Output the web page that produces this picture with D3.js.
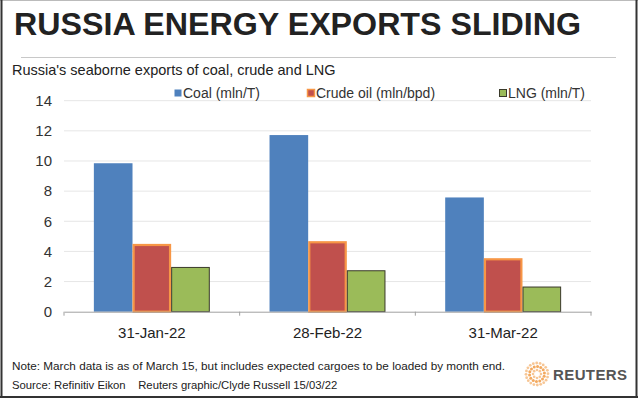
<!DOCTYPE html>
<html>
<head>
<meta charset="utf-8">
<script src="https://cdn.jsdelivr.net/npm/d3@7"></script>
<style>
  body { margin: 0; background: #fff; }
  svg { display: block; font-family: "Liberation Sans", Arial, sans-serif; }
</style>
</head>
<body>
<script>
// data
const dates = ["31-Jan-22", "28-Feb-22", "31-Mar-22"];
const series = ["Coal (mln/T)", "Crude oil (mln/bpd)", "LNG (mln/T)"];
const coal = [9.85, 11.72, 7.58];
const crude = [4.5, 4.68, 3.55];
const lng = [2.97, 2.75, 1.67];
const yTicks = [0, 2, 4, 6, 8, 10, 12, 14];

const fills = ["#4f81bd", "#c0504d", "#9bbb59"];
const strokes = ["none", "#f79646", "#3a3a2a"];
const strokeW = [0, 2.2, 1];

const W = 640, H = 399;
const svg = d3.select("body").append("svg")
  .attr("width", W)
  .attr("height", H);

// frame
svg.append("line").attr("x1", 0).attr("x2", 638).attr("y1", 0.5).attr("y2", 0.5)
  .attr("stroke", "#bbb").attr("stroke-width", 1);
svg.append("line").attr("x1", 1.5).attr("x2", 1.5).attr("y1", 0).attr("y2", 398)
  .attr("stroke", "#333").attr("stroke-width", 2);
svg.append("line").attr("x1", 636.5).attr("x2", 636.5).attr("y1", 0).attr("y2", 398)
  .attr("stroke", "#333").attr("stroke-width", 2);
svg.append("line").attr("x1", 0).attr("x2", 638).attr("y1", 397).attr("y2", 397)
  .attr("stroke", "#333").attr("stroke-width", 2);

// title
svg.append("text")
  .attr("x", 14).attr("y", 35)
  .attr("font-size", 32).attr("font-weight", "bold")
  .attr("fill", "#222")
  .attr("textLength", 567).attr("lengthAdjust", "spacingAndGlyphs")
  .text("RUSSIA ENERGY EXPORTS SLIDING");

svg.append("line").attr("x1", 21).attr("x2", 616).attr("y1", 57.5).attr("y2", 57.5)
  .attr("stroke", "#c8c8c8").attr("stroke-width", 1);

svg.append("text")
  .attr("x", 12).attr("y", 75)
  .attr("font-size", 14.5).attr("fill", "#222")
  .text("Russia's seaborne exports of coal, crude and LNG");

// scales
const margin = { left: 64, right: 591, top: 100.7, bottom: 311.7 };
const y = d3.scaleLinear().domain([0, 14]).range([margin.bottom, margin.top]);
const x0 = d3.scaleBand().domain(dates).range([margin.left, margin.right])
  .paddingInner(0.34).paddingOuter(0.17);
const x1 = d3.scaleBand().domain(series).range([0, x0.bandwidth()]);

// gridlines
svg.append("g")
  .selectAll("line")
  .data(yTicks.slice(1))
  .join("line")
  .attr("x1", margin.left).attr("x2", margin.right)
  .attr("y1", d => y(d)).attr("y2", d => y(d))
  .attr("stroke", "#e6e6e6").attr("stroke-width", 1);

// y axis labels
const yAxis = svg.append("g")
  .attr("transform", `translate(${margin.left},0)`)
  .call(d3.axisLeft(y).tickValues(yTicks).tickSize(0).tickPadding(12));
yAxis.select(".domain").remove();
yAxis.selectAll("text").attr("font-size", 15).attr("fill", "#333")
  .attr("font-family", "Liberation Sans, Arial, sans-serif");

// bars
const rows = dates.map((d, i) => ({ date: d, vals: [coal[i], crude[i], lng[i]] }));
const grp = svg.append("g").selectAll("g")
  .data(rows)
  .join("g")
  .attr("transform", d => `translate(${x0(d.date)},0)`);
grp.selectAll("rect")
  .data(d => d.vals.map((v, k) => ({ k, v })))
  .join("rect")
  .attr("x", d => x1(series[d.k]) + strokeW[d.k] / 2)
  .attr("width", d => x1.bandwidth() - strokeW[d.k])
  .attr("y", d => y(d.v) + strokeW[d.k] / 2)
  .attr("height", d => y(0) - y(d.v) - strokeW[d.k] / 2)
  .attr("fill", d => fills[d.k])
  .attr("stroke", d => strokes[d.k])
  .attr("stroke-width", d => strokeW[d.k]);

// x axis
const xAxis = svg.append("g")
  .attr("transform", `translate(0,${margin.bottom})`)
  .call(d3.axisBottom(x0).tickSize(0).tickPadding(16));
xAxis.select(".domain").attr("stroke", "#a0a0a0");
xAxis.selectAll("text").attr("font-size", 15).attr("fill", "#222")
  .attr("font-family", "Liberation Sans, Arial, sans-serif");
const step = x0.step();
xAxis.append("g").selectAll("line")
  .data(d3.range(dates.length + 1))
  .join("line")
  .attr("x1", i => margin.left + i * step).attr("x2", i => margin.left + i * step)
  .attr("y1", 0).attr("y2", 4)
  .attr("stroke", "#a0a0a0");

// legend
const legendX = [174, 307, 499];
const leg = svg.append("g").selectAll("g")
  .data(series)
  .join("g")
  .attr("transform", (d, i) => `translate(${legendX[i]},93)`);
leg.append("rect")
  .attr("x", 0.5).attr("y", -3.5).attr("width", 7).attr("height", 7)
  .attr("fill", (d, i) => fills[i])
  .attr("stroke", (d, i) => strokes[i])
  .attr("stroke-width", (d, i) => Math.min(strokeW[i], 1.5));
leg.append("text")
  .attr("x", 9).attr("y", 5)
  .attr("font-size", 14).attr("fill", "#333")
  .text(d => d);

// footer
svg.append("text")
  .attr("x", 12).attr("y", 370)
  .attr("font-size", 11.3).attr("fill", "#222")
  .attr("textLength", 493).attr("lengthAdjust", "spacingAndGlyphs")
  .text("Note: March data is as of March 15, but includes expected cargoes to be loaded by month end.");
svg.append("text")
  .attr("x", 12).attr("y", 389)
  .attr("font-size", 11.3).attr("fill", "#222")
  .attr("xml:space", "preserve")
  .text("Source: Refinitiv Eikon    Reuters graphic/Clyde Russell 15/03/22");

// Reuters logo: ring of dots
const logo = svg.append("g").attr("transform", "translate(537,374)");
const dots = [];
[4, 7.5, 11].forEach((r, ri) => {
  const n = [8, 14, 20][ri];
  for (let k = 0; k < n; k++) {
    const a = (k / n) * 2 * Math.PI + ri * 0.3;
    dots.push({ x: r * Math.cos(a), y: r * Math.sin(a), s: [1.3, 1.5, 1.4][ri], o: ri === 1 ? 0.9 : 0.6 });
  }
});
logo.selectAll("circle").data(dots).join("circle")
  .attr("cx", d => d.x).attr("cy", d => d.y).attr("r", d => d.s)
  .attr("fill", "#f2a04e").attr("opacity", d => d.o);
svg.append("text")
  .attr("x", 553).attr("y", 380)
  .attr("font-size", 15).attr("font-weight", "bold").attr("fill", "#555")
  .attr("letter-spacing", 0.4)
  .text("REUTERS");
</script>
</body>
</html>
